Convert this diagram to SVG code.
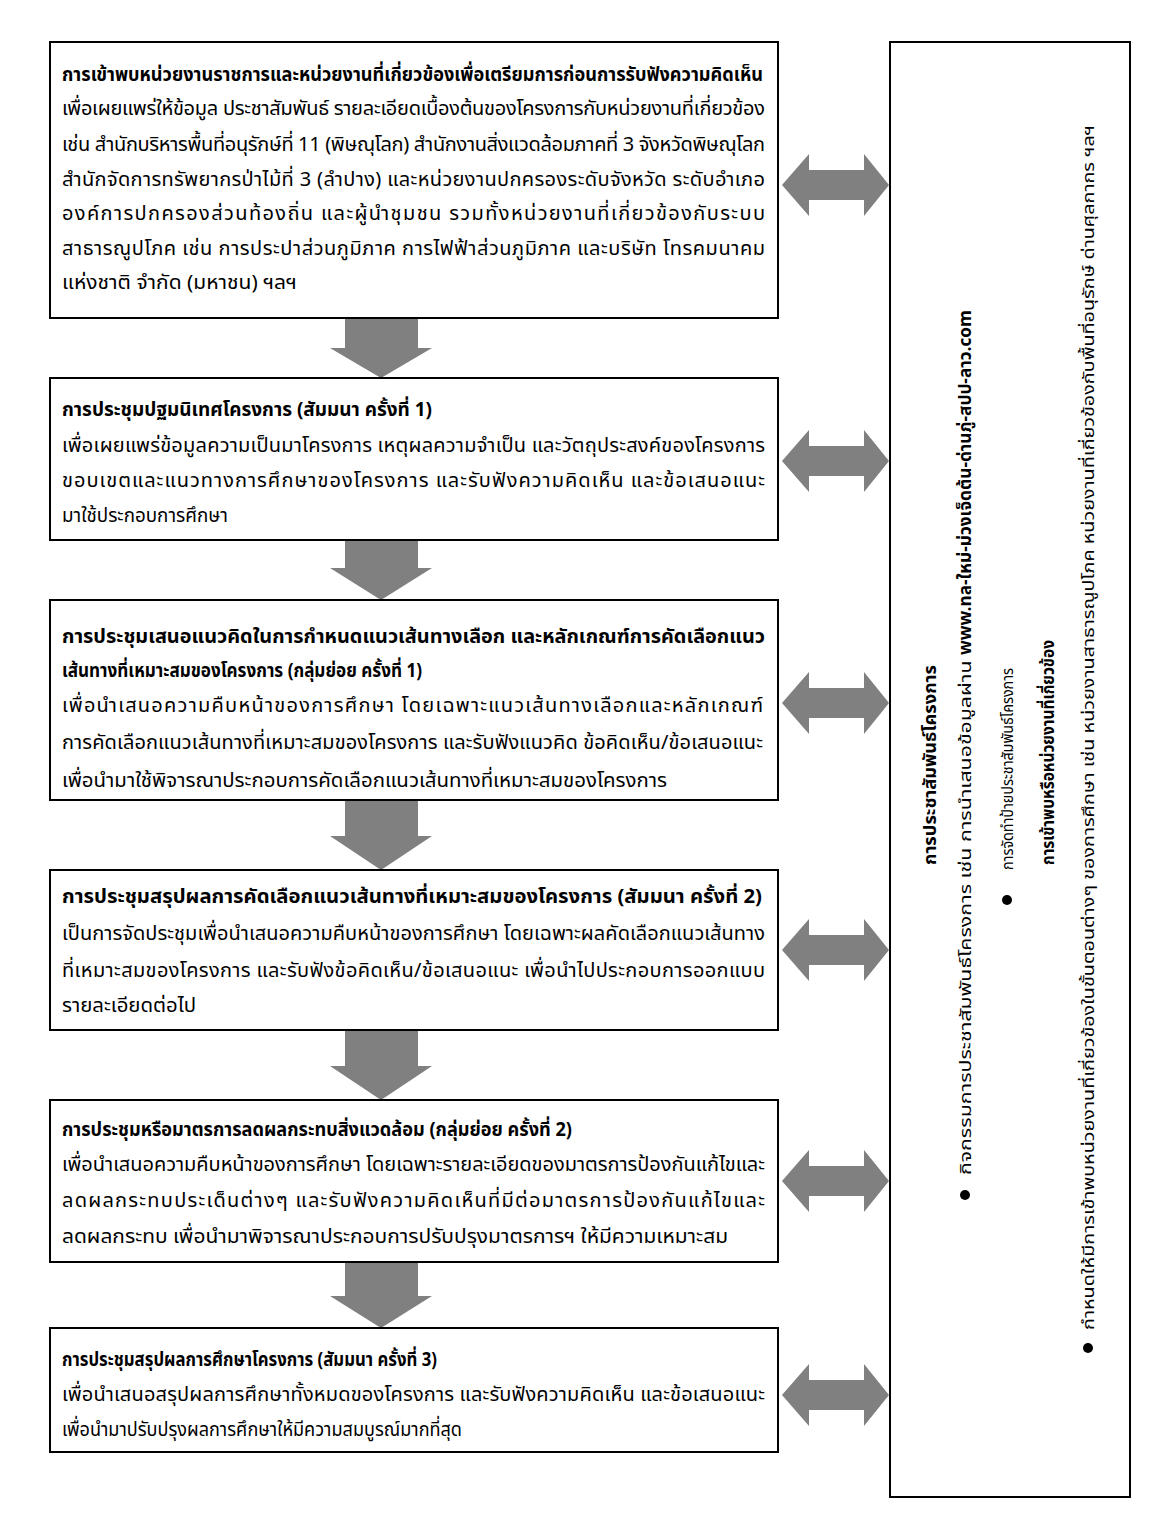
<svg xmlns="http://www.w3.org/2000/svg" xmlns:xlink="http://www.w3.org/1999/xlink" width="1172" height="1518" viewBox="0 0 1172 1518">
<style>
.box{fill:#fff;stroke:#000;stroke-width:2}
.arr{fill:#808080}
text{font-family:"Noto Sans Thai","Noto Sans Thai Looped","Loma","Garuda","Tlwg Typo","DejaVu Sans",sans-serif;fill:#000}
.t{font-size:19px;font-weight:bold}
.b{font-size:20px}
.r{font-size:16px}
.rb{font-size:17px;font-weight:bold}
.dot{fill:#000}
</style>
<defs>
<path id="dbl" d="M0,0 L27,-31 L27,-15 L82,-15 L82,-31 L107,0 L82,31 L82,15 L27,15 L27,31 Z"/>
</defs>
<rect width="1172" height="1518" fill="#fff"/>
<g id="connectors">
<path class="arr" d="M345,318 L418,318 L418,348 L432,348 L381,378 L330,348 L345,348 Z"/>
<path class="arr" d="M345,540 L418,540 L418,568 L432,568 L381,600 L330,568 L345,568 Z"/>
<path class="arr" d="M345,800 L418,800 L418,836 L432,836 L381,870 L330,836 L345,836 Z"/>
<path class="arr" d="M345,1030 L418,1030 L418,1066 L432,1066 L381,1100 L330,1066 L345,1066 Z"/>
<path class="arr" d="M345,1262 L418,1262 L418,1296 L432,1296 L381,1328 L330,1296 L345,1296 Z"/>
<use xlink:href="#dbl" class="arr" x="782" y="185"/>
<use xlink:href="#dbl" class="arr" x="782" y="461"/>
<use xlink:href="#dbl" class="arr" x="782" y="703"/>
<use xlink:href="#dbl" class="arr" x="782" y="950"/>
<use xlink:href="#dbl" class="arr" x="782" y="1181"/>
<use xlink:href="#dbl" class="arr" x="782" y="1395"/>
</g>
<g id="node1">
<rect class="box" x="50" y="42" width="728" height="276"/>
<text class="t" x="62" y="81" textLength="701" lengthAdjust="spacingAndGlyphs">การเข้าพบหน่วยงานราชการและหน่วยงานที่เกี่ยวข้องเพื่อเตรียมการก่อนการรับฟังความคิดเห็น</text>
<text class="b" x="62" y="115" textLength="703" lengthAdjust="spacing">เพื่อเผยแพร่ให้ข้อมูล ประชาสัมพันธ์ รายละเอียดเบื้องต้นของโครงการกับหน่วยงานที่เกี่ยวข้อง</text>
<text class="b" x="62" y="151" textLength="703" lengthAdjust="spacing">เช่น สำนักบริหารพื้นที่อนุรักษ์ที่ 11 (พิษณุโลก) สำนักงานสิ่งแวดล้อมภาคที่ 3 จังหวัดพิษณุโลก</text>
<text class="b" x="62" y="186" textLength="703" lengthAdjust="spacing">สำนักจัดการทรัพยากรป่าไม้ที่ 3 (ลำปาง) และหน่วยงานปกครองระดับจังหวัด ระดับอำเภอ</text>
<text class="b" x="62" y="220" textLength="703" lengthAdjust="spacing">องค์การปกครองส่วนท้องถิ่น และผู้นำชุมชน รวมทั้งหน่วยงานที่เกี่ยวข้องกับระบบ</text>
<text class="b" x="62" y="255" textLength="703" lengthAdjust="spacing">สาธารณูปโภค เช่น การประปาส่วนภูมิภาค การไฟฟ้าส่วนภูมิภาค และบริษัท โทรคมนาคม</text>
<text class="b" x="62" y="289" textLength="235" lengthAdjust="spacingAndGlyphs">แห่งชาติ จำกัด (มหาชน) ฯลฯ</text>
</g>
<g id="node2">
<rect class="box" x="50" y="378" width="728" height="162"/>
<text class="t" x="62" y="416" textLength="370" lengthAdjust="spacingAndGlyphs">การประชุมปฐมนิเทศโครงการ (สัมมนา ครั้งที่ 1)</text>
<text class="b" x="62" y="452" textLength="703" lengthAdjust="spacing">เพื่อเผยแพร่ข้อมูลความเป็นมาโครงการ เหตุผลความจำเป็น และวัตถุประสงค์ของโครงการ</text>
<text class="b" x="62" y="487" textLength="703" lengthAdjust="spacing">ขอบเขตและแนวทางการศึกษาของโครงการ และรับฟังความคิดเห็น และข้อเสนอแนะ</text>
<text class="b" x="62" y="522" textLength="166" lengthAdjust="spacingAndGlyphs">มาใช้ประกอบการศึกษา</text>
</g>
<g id="node3">
<rect class="box" x="50" y="600" width="728" height="200"/>
<text class="t" x="62" y="643" textLength="703" lengthAdjust="spacingAndGlyphs">การประชุมเสนอแนวคิดในการกำหนดแนวเส้นทางเลือก และหลักเกณฑ์การคัดเลือกแนว</text>
<text class="t" x="62" y="677" textLength="360" lengthAdjust="spacingAndGlyphs">เส้นทางที่เหมาะสมของโครงการ (กลุ่มย่อย ครั้งที่ 1)</text>
<text class="b" x="62" y="712" textLength="701" lengthAdjust="spacing">เพื่อนำเสนอความคืบหน้าของการศึกษา โดยเฉพาะแนวเส้นทางเลือกและหลักเกณฑ์</text>
<text class="b" x="62" y="749" textLength="701" lengthAdjust="spacing">การคัดเลือกแนวเส้นทางที่เหมาะสมของโครงการ และรับฟังแนวคิด ข้อคิดเห็น/ข้อเสนอแนะ</text>
<text class="b" x="62" y="787" textLength="605" lengthAdjust="spacingAndGlyphs">เพื่อนำมาใช้พิจารณาประกอบการคัดเลือกแนวเส้นทางที่เหมาะสมของโครงการ</text>
</g>
<g id="node4">
<rect class="box" x="50" y="870" width="728" height="160"/>
<text class="t" x="62" y="903" textLength="700" lengthAdjust="spacingAndGlyphs">การประชุมสรุปผลการคัดเลือกแนวเส้นทางที่เหมาะสมของโครงการ (สัมมนา ครั้งที่ 2)</text>
<text class="b" x="62" y="940" textLength="703" lengthAdjust="spacing">เป็นการจัดประชุมเพื่อนำเสนอความคืบหน้าของการศึกษา โดยเฉพาะผลคัดเลือกแนวเส้นทาง</text>
<text class="b" x="62" y="977" textLength="703" lengthAdjust="spacing">ที่เหมาะสมของโครงการ และรับฟังข้อคิดเห็น/ข้อเสนอแนะ เพื่อนำไปประกอบการออกแบบ</text>
<text class="b" x="62" y="1012" textLength="134" lengthAdjust="spacingAndGlyphs">รายละเอียดต่อไป</text>
</g>
<g id="node5">
<rect class="box" x="50" y="1100" width="728" height="162"/>
<text class="t" x="62" y="1136" textLength="510" lengthAdjust="spacingAndGlyphs">การประชุมหรือมาตรการลดผลกระทบสิ่งแวดล้อม (กลุ่มย่อย ครั้งที่ 2)</text>
<text class="b" x="62" y="1171" textLength="703" lengthAdjust="spacing">เพื่อนำเสนอความคืบหน้าของการศึกษา โดยเฉพาะรายละเอียดของมาตรการป้องกันแก้ไขและ</text>
<text class="b" x="62" y="1207" textLength="703" lengthAdjust="spacing">ลดผลกระทบประเด็นต่างๆ และรับฟังความคิดเห็นที่มีต่อมาตรการป้องกันแก้ไขและ</text>
<text class="b" x="62" y="1243" textLength="666" lengthAdjust="spacingAndGlyphs">ลดผลกระทบ เพื่อนำมาพิจารณาประกอบการปรับปรุงมาตรการฯ ให้มีความเหมาะสม</text>
</g>
<g id="node6">
<rect class="box" x="50" y="1328" width="728" height="124"/>
<text class="t" x="62" y="1366" textLength="375" lengthAdjust="spacingAndGlyphs">การประชุมสรุปผลการศึกษาโครงการ (สัมมนา ครั้งที่ 3)</text>
<text class="b" x="62" y="1401" textLength="703" lengthAdjust="spacing">เพื่อนำเสนอสรุปผลการศึกษาทั้งหมดของโครงการ และรับฟังความคิดเห็น และข้อเสนอแนะ</text>
<text class="b" x="62" y="1436" textLength="400" lengthAdjust="spacingAndGlyphs">เพื่อนำมาปรับปรุงผลการศึกษาให้มีความสมบูรณ์มากที่สุด</text>
</g>
<g id="panel">
<rect class="box" x="890" y="42" width="240" height="1455"/>
<text class="rb" transform="translate(936,865) rotate(-90)" textLength="200" lengthAdjust="spacingAndGlyphs">การประชาสัมพันธ์โครงการ</text>
<circle class="dot" cx="965" cy="1195" r="5"/>
<text class="r" transform="translate(971,1175) rotate(-90)"><tspan textLength="520" lengthAdjust="spacingAndGlyphs">กิจกรรมการประชาสัมพันธ์โครงการ เช่น การนำเสนอข้อมูลผ่าน </tspan><tspan font-weight="bold" font-size="18" textLength="345" lengthAdjust="spacingAndGlyphs">www.ทล-ใหม่-ม่วงเจ็ดต้น-ด่านภู่-สปป-ลาว.com</tspan></text>
<circle class="dot" cx="1007" cy="900" r="5"/>
<text class="r" transform="translate(1013,870) rotate(-90)" textLength="202" lengthAdjust="spacingAndGlyphs">การจัดทำป้ายประชาสัมพันธ์โครงการ</text>
<text class="rb" transform="translate(1054,865) rotate(-90)" textLength="225" lengthAdjust="spacingAndGlyphs">การเข้าพบหรือหน่วยงานที่เกี่ยวข้อง</text>
<circle class="dot" cx="1088" cy="1348" r="5"/>
<text class="r" transform="translate(1094,1330) rotate(-90)" textLength="1205" lengthAdjust="spacingAndGlyphs">กำหนดให้มีการเข้าพบหน่วยงานที่เกี่ยวข้องในขั้นตอนต่างๆ ของการศึกษา เช่น หน่วยงานสาธารณูปโภค หน่วยงานที่เกี่ยวข้องกับพื้นที่อนุรักษ์ ด่านศุลกากร ฯลฯ</text>
</g>
</svg>
